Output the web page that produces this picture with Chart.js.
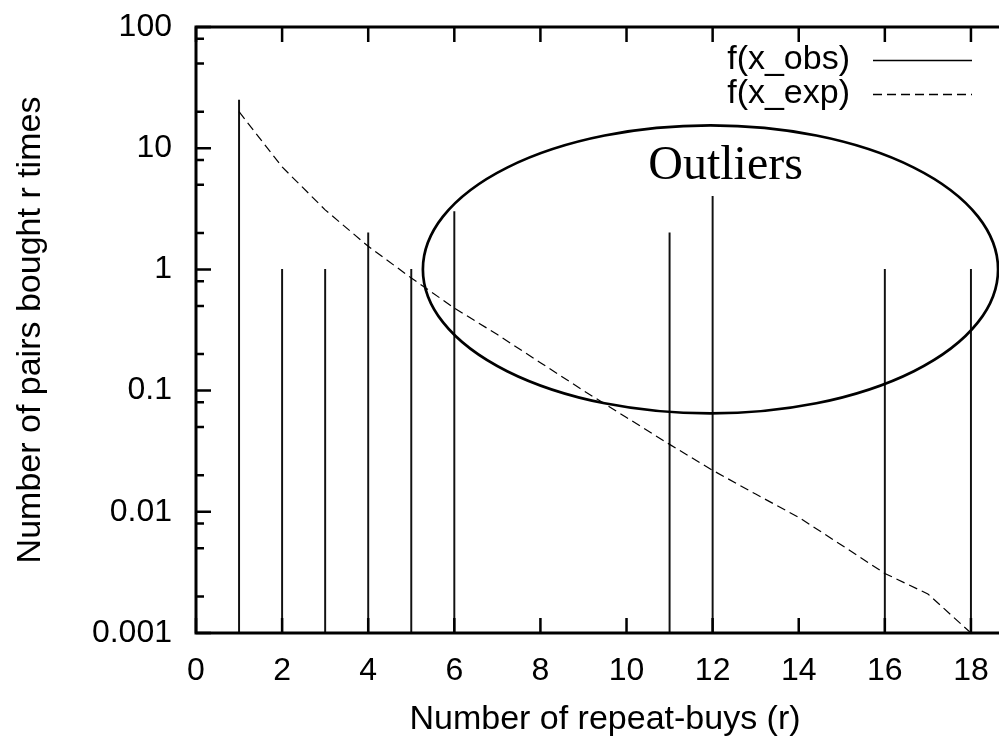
<!DOCTYPE html>
<html>
<head>
<meta charset="utf-8">
<script src="https://cdn.jsdelivr.net/npm/chart.js@4.4.1/dist/chart.umd.min.js"></script>
<style>
  html, body { margin: 0; padding: 0; background: #fff; overflow: hidden; }
  canvas { display: block; }
</style>
</head>
<body>
<canvas id="chart" width="1024" height="739"></canvas>
<script>
// observed counts (impulses)
const obsX = [1, 2, 3, 4, 5, 6, 11, 12, 16, 18]
const obsY = [25, 1, 1, 2, 1, 3, 2, 4, 1, 1]

// expected curve (dashed)
const expX = [1, 2, 3, 4, 5, 6, 7, 8, 9, 10, 11, 12, 13, 14, 15, 16, 17, 18]
const expY = [20, 7, 3.1, 1.55, 0.85, 0.48, 0.29, 0.17, 0.1, 0.06, 0.036, 0.022, 0.014, 0.009, 0.0053, 0.0031, 0.0021, 0.001]

const xTicks = [0, 2, 4, 6, 8, 10, 12, 14, 16, 18]
const yTicks = [0.001, 0.01, 0.1, 1, 10, 100]
const yTickLabels = ["0.001", "0.01", "0.1", "1", "10", "100"]
const yMinorSteps = [2, 5, 8]
const seriesLabels = ["f(x_obs)", "f(x_exp)"]
const outlierLabel = "Outliers"

const SANS = '"Liberation Sans", Arial, sans-serif'

const framePlugin = {
  id: "frame",
  afterDatasetsDraw(chart) {
    const { ctx, chartArea: a, scales } = chart
    const x = scales.x
    const y = scales.y
    ctx.save()
    ctx.strokeStyle = "#000"
    ctx.fillStyle = "#000"

    // outlier ellipse around x=12, y=1
    const cx = x.getPixelForValue(11.95)
    const cy = y.getPixelForValue(1)
    const rx = x.getPixelForValue(11.95 + 6.68) - cx
    const ry = cy - y.getPixelForValue(Math.pow(10, 1.188))
    ctx.lineWidth = 2.7
    ctx.beginPath()
    ctx.ellipse(cx, cy, rx, ry, 0, 0, Math.PI * 2)
    ctx.stroke()

    ctx.font = '48px "Liberation Serif", "Times New Roman", serif'
    ctx.textAlign = "center"
    ctx.textBaseline = "alphabetic"
    ctx.fillText(outlierLabel, x.getPixelForValue(12.3), y.getPixelForValue(5.6))

    // inward tick marks, mirrored on all sides
    ctx.lineWidth = 2.5
    ctx.beginPath()
    xTicks.forEach((v) => {
      const px = x.getPixelForValue(v)
      ctx.moveTo(px, a.bottom); ctx.lineTo(px, a.bottom - 15)
      ctx.moveTo(px, a.top); ctx.lineTo(px, a.top + 15)
    })
    yTicks.forEach((v, i) => {
      const py = y.getPixelForValue(v)
      ctx.moveTo(a.left, py); ctx.lineTo(a.left + 15, py)
      ctx.moveTo(a.right, py); ctx.lineTo(a.right - 15, py)
      if (i < yTicks.length - 1) {
        yMinorSteps.forEach((m) => {
          const pm = y.getPixelForValue(v * m)
          ctx.moveTo(a.left, pm); ctx.lineTo(a.left + 8, pm)
          ctx.moveTo(a.right, pm); ctx.lineTo(a.right - 8, pm)
        })
      }
    })
    ctx.stroke()

    // border
    ctx.lineWidth = 3
    ctx.strokeRect(a.left, a.top, a.right - a.left, a.bottom - a.top)

    // legend: text right-aligned, sample line to its right
    ctx.font = "34px " + SANS
    ctx.textAlign = "right"
    ctx.textBaseline = "middle"
    const rows = [a.top + 33, a.top + 67]
    rows.forEach((ry2, i) => {
      ctx.fillText(seriesLabels[i], a.right - 164, ry2)
      const ly = Math.round(ry2) + 0.5
      ctx.lineWidth = 1.3
      ctx.setLineDash(i === 0 ? [] : [9, 5])
      ctx.beginPath()
      ctx.moveTo(a.right - 141, ly)
      ctx.lineTo(a.right - 42, ly)
      ctx.stroke()
    })
    ctx.setLineDash([])
    ctx.restore()
  },
}

new Chart(document.getElementById("chart"), {
  type: "bar",
  data: {
    datasets: [
      {
        label: seriesLabels[0],
        data: obsX.map((v, i) => ({ x: v, y: obsY[i] })),
        backgroundColor: "#111",
        borderWidth: 0,
        barThickness: 1.3,
        base: yTicks[0],
        order: 2,
      },
      {
        type: "line",
        label: seriesLabels[1],
        data: expX.map((v, i) => ({ x: v, y: expY[i] })),
        borderColor: "#000",
        borderWidth: 1.2,
        borderDash: [9, 5],
        pointRadius: 0,
        tension: 0,
        fill: false,
        order: 1,
      },
    ],
  },
  options: {
    responsive: false,
    animation: false,
    layout: { padding: { top: 27, right: 10, left: 0, bottom: 0 } },
    plugins: { legend: { display: false }, tooltip: { enabled: false } },
    scales: {
      x: {
        type: "linear",
        min: 0,
        max: 19,
        offset: false,
        grid: { display: false, drawTicks: false, offset: false },
        border: { display: false },
        afterBuildTicks: (s) => { s.ticks = xTicks.map((v) => ({ value: v })) },
        afterFit: (s) => { s.height = 106; s.paddingLeft = 0; s.paddingRight = 0 },
        ticks: { color: "#000", padding: 18.5, font: { family: SANS, size: 32 }, maxRotation: 0, autoSkip: false },
        title: {
          display: true,
          text: "Number of repeat-buys (r)",
          color: "#000",
          font: { family: SANS, size: 34, lineHeight: 1 },
          padding: { top: 0, bottom: 2 },
        },
      },
      y: {
        type: "logarithmic",
        min: 0.001,
        max: 100,
        grid: { display: false, drawTicks: false },
        border: { display: false },
        afterBuildTicks: (s) => { s.ticks = yTicks.map((v) => ({ value: v })) },
        afterFit: (s) => { s.width = 196; s.paddingTop = 0; s.paddingBottom = 0 },
        ticks: {
          color: "#000",
          padding: 24,
          font: { family: SANS, size: 32 },
          autoSkip: false,
          callback: (v) => {
            const i = yTicks.indexOf(v)
            return i >= 0 ? yTickLabels[i] : ""
          },
        },
        title: {
          display: true,
          text: "Number of pairs bought r times",
          color: "#000",
          font: { family: SANS, size: 34, lineHeight: 1 },
          padding: { top: 14, bottom: 0 },
        },
      },
    },
  },
  plugins: [framePlugin],
})
</script>
</body>
</html>
